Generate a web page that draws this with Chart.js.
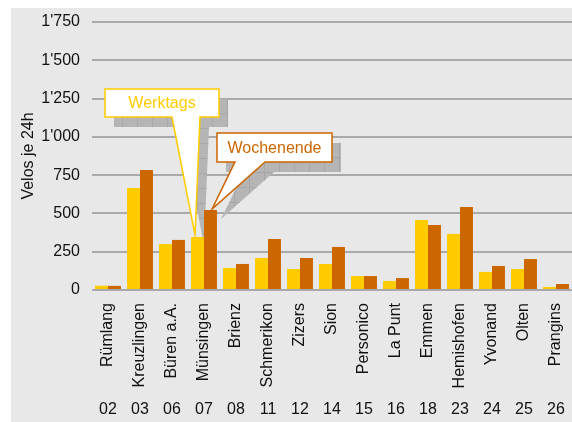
<!DOCTYPE html>
<html>
<head>
<meta charset="utf-8">
<script src="https://cdn.jsdelivr.net/npm/chart.js@4"></script>
<style>
  html, body { margin: 0; padding: 0; background: #ffffff; }
  #wrap { position: absolute; left: 11px; top: 8px; width: 561px; height: 414px; background: #e8e8e8; }
  canvas { display: block; }
</style>
</head>
<body>
<div id="wrap"><canvas id="c" width="561" height="414"></canvas></div>
<script>
const categories = ['Rümlang','Kreuzlingen','Büren a.A.','Münsingen','Brienz','Schmerikon','Zizers','Sion','Personico','La Punt','Emmen','Hemishofen','Yvonand','Olten','Prangins'];
const codes = ['02','03','06','07','08','11','12','14','15','16','18','23','24','25','26'];
const werktags = [28,666,300,346,144,209,137,170,91,59,457,366,118,137,20];
const wochenende = [27,784,327,522,170,333,209,281,91,78,425,542,157,202,39];
const seriesNames = ['Werktags','Wochenende'];
const yTitle = 'Velos je 24h';

const FONT = '"Liberation Sans", Arial, sans-serif';
const YELLOW = '#FFCC00';
const ORANGE = '#CC6600';

// callout annotations: box centre given in data space (category index, value)
const callouts = [
  { text: seriesNames[0], ds: 0, idx: 3, cx: 1.6875, cy: 1221, w: 114, h: 28, baseL: 67, baseR: 95, tipDx: 4, tipDy: -2, color: YELLOW },
  { text: seriesNames[1], ds: 1, idx: 3, cx: 5.203, cy: 931, w: 115, h: 29, baseL: 18, baseR: 48, tipDx: 8, tipDy: -1, color: ORANGE }
];

function calloutPath(ctx, chart, c, dx, dy) {
  const xs = chart.scales.x, ys = chart.scales.y;
  const bar = chart.getDatasetMeta(c.ds).data[c.idx];
  const left = xs.getPixelForValue(c.cx) - c.w / 2 + dx;
  const top = ys.getPixelForValue(c.cy) - c.h / 2 + dy;
  const right = left + c.w, bottom = top + c.h;
  const tipX = bar.x - bar.width / 2 + c.tipDx + dx;
  const tipY = bar.y + c.tipDy + dy;
  ctx.beginPath();
  ctx.moveTo(left, top);
  ctx.lineTo(right, top);
  ctx.lineTo(right, bottom);
  ctx.lineTo(left + c.baseR, bottom);
  ctx.lineTo(tipX, tipY);
  ctx.lineTo(left + c.baseL, bottom);
  ctx.lineTo(left, bottom);
  ctx.closePath();
  return { left, top, right, bottom };
}

const calloutPlugin = {
  id: 'callouts',
  beforeDatasetsDraw(chart) {
    const ctx = chart.ctx;
    callouts.forEach(c => {
      ctx.save();
      const r = calloutPath(ctx, chart, c, 9, 10);
      ctx.fillStyle = '#b5b5b5';
      ctx.fill();
      ctx.clip();
      ctx.strokeStyle = '#a7a7a7';
      ctx.lineWidth = 1;
      for (let x = r.left + 8; x < r.right + 200; x += 15) {
        ctx.beginPath(); ctx.moveTo(Math.round(x) + 0.5, r.top - 200); ctx.lineTo(Math.round(x) + 0.5, r.bottom + 200); ctx.stroke();
      }
      for (let y = r.top + 14; y < r.bottom + 200; y += 15) {
        ctx.beginPath(); ctx.moveTo(r.left - 200, Math.round(y) + 0.5); ctx.lineTo(r.right + 200, Math.round(y) + 0.5); ctx.stroke();
      }
      ctx.restore();
    });
  },
  afterDatasetsDraw(chart) {
    const ctx = chart.ctx;
    callouts.forEach(c => {
      ctx.save();
      const r = calloutPath(ctx, chart, c, 0, 0);
      ctx.fillStyle = '#ffffff';
      ctx.fill();
      ctx.strokeStyle = c.color;
      ctx.lineWidth = 1.5;
      ctx.lineJoin = 'miter';
      ctx.stroke();
      ctx.fillStyle = c.color;
      ctx.font = '16px ' + FONT;
      ctx.textAlign = 'center';
      ctx.textBaseline = 'middle';
      ctx.fillText(c.text, (r.left + r.right) / 2, (r.top + r.bottom) / 2 + 1);
      ctx.restore();
    });
  }
};

function noPad(s) { s.paddingTop = 0; s.paddingBottom = 0; s.paddingLeft = 0; s.paddingRight = 0; }

new Chart(document.getElementById('c'), {
  type: 'bar',
  data: {
    labels: categories,
    datasets: [
      { label: seriesNames[0], data: werktags, backgroundColor: YELLOW, categoryPercentage: 0.81, barPercentage: 1.0, xAxisID: 'x' },
      { label: seriesNames[1], data: wochenende, backgroundColor: ORANGE, categoryPercentage: 0.81, barPercentage: 1.0, xAxisID: 'x' }
    ]
  },
  options: {
    responsive: false,
    animation: false,
    devicePixelRatio: 1,
    layout: { padding: { top: 14, right: 0, left: 0, bottom: 0 } },
    plugins: { legend: { display: false }, tooltip: { enabled: false } },
    scales: {
      y: {
        min: 0, max: 1750,
        ticks: {
          stepSize: 250, padding: 12, color: '#111', font: { family: FONT, size: 16 },
          callback: v => String(v).replace(/\B(?=(\d{3})+(?!\d))/g, "'")
        },
        grid: { color: '#a9a9a9', lineWidth: 2, drawTicks: false },
        border: { display: false },
        title: { display: true, text: yTitle, color: '#111', font: { family: FONT, size: 16 }, padding: { top: 8, bottom: 0 } },
        afterFit(s) { s.width = 81; noPad(s); }
      },
      x: {
        type: 'category',
        position: 'bottom',
        weight: 0,
        grid: { display: false, drawTicks: false },
        border: { display: false },
        ticks: { autoSkip: false, minRotation: 90, maxRotation: 90, padding: 13, color: '#111', font: { family: FONT, size: 16 } },
        afterFit(s) { s.height = 110; noPad(s); }
      },
      x2: {
        type: 'category',
        position: 'bottom',
        weight: 1,
        labels: codes,
        grid: { display: false, drawTicks: false },
        border: { display: false },
        ticks: { autoSkip: false, minRotation: 0, maxRotation: 0, padding: 0, color: '#111', font: { family: FONT, size: 16 } },
        afterFit(s) { s.height = 22; noPad(s); }
      }
    }
  },
  plugins: [calloutPlugin]
});
</script>
</body>
</html>
